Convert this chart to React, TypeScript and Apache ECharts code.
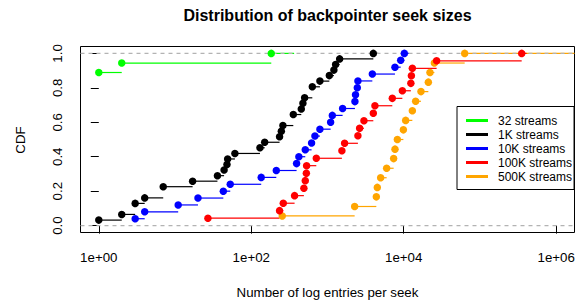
import React, { useEffect, useRef } from "react";
import * as echarts from "echarts";

// ---- data (x = log entries per seek, y = empirical CDF) ----
const seriesNames = ["32 streams", "1K streams", "10K streams", "100K streams", "500K streams"];
const seriesColors = ["#00FF00", "#000000", "#0000FF", "#FF0000", "#FFA500"];

const streams32X = [1, 2, 183];
const streams32Y = [0.889, 0.944, 1.0];

const streams1KX = [1, 2, 3, 4, 7, 17, 36, 44, 48, 49, 61, 130, 150, 235, 248, 260, 356, 453, 476, 501, 632, 795, 1057, 1213, 1277, 1443, 3990];
const streams1KY = [0.032, 0.065, 0.129, 0.161, 0.226, 0.258, 0.29, 0.323, 0.355, 0.387, 0.419, 0.452, 0.484, 0.516, 0.548, 0.581, 0.645, 0.677, 0.71, 0.742, 0.806, 0.839, 0.871, 0.903, 0.935, 0.968, 1.0];

const streams10KX = [3, 4, 11, 20, 43, 53, 135, 213, 393, 421, 511, 618, 684, 795, 1099, 1157, 1578, 2290, 2330, 2460, 2506, 3873, 7672, 9120, 10180];
const streams10KY = [0.04, 0.08, 0.12, 0.16, 0.2, 0.24, 0.28, 0.32, 0.36, 0.4, 0.44, 0.48, 0.52, 0.56, 0.6, 0.64, 0.68, 0.72, 0.76, 0.8, 0.84, 0.88, 0.92, 0.96, 1.0];

const streams100KX = [27, 235, 263, 370, 490, 511, 528, 532, 713, 1545, 1676, 2506, 2637, 3006, 3990, 4190, 7080, 9590, 12400, 12600, 12970, 27000, 352500];
const streams100KY = [0.043, 0.087, 0.13, 0.174, 0.217, 0.261, 0.304, 0.348, 0.391, 0.435, 0.478, 0.522, 0.565, 0.609, 0.652, 0.696, 0.739, 0.783, 0.826, 0.87, 0.913, 0.957, 1.0];

const streams500KX = [255, 2270, 4370, 4500, 4980, 5970, 7370, 7680, 8250, 9890, 10600, 12970, 14330, 16830, 21030, 22080, 25230, 63000];
const streams500KY = [0.056, 0.111, 0.167, 0.222, 0.278, 0.333, 0.389, 0.444, 0.5, 0.556, 0.611, 0.667, 0.722, 0.778, 0.833, 0.889, 0.944, 1.0];

// where the final (CDF = 1) step of each curve ends; null = runs to the plot edge
const tailEnds: (number | null)[] = [365, 4630, 11800, 409000, null];

const xTickExponents = [0, 2, 4, 6];
const yTicks = [0, 0.2, 0.4, 0.6, 0.8, 1.0];
const refLevels = [0, 1];

const X_MIN = -0.24;
const X_MAX = 6.24;
const Y_MIN = -0.04;
const Y_MAX = 1.04;

const allX = [streams32X, streams1KX, streams10KX, streams100KX, streams500KX];
const allY = [streams32Y, streams1KY, streams10KY, streams100KY, streams500KY];

const FONT = "'Liberation Sans', Arial, Helvetica, sans-serif";

function buildOption() {
  const series: any[] = [];
  const drawOrder = [4, 0, 1, 2, 3];

  drawOrder.forEach((i) => {
    const xs = allX[i];
    const ys = allY[i];
    const segs: number[][] = [];
    for (let k = 0; k < xs.length; k++) {
      const x0 = Math.log10(xs[k]);
      let x1: number;
      if (k < xs.length - 1) x1 = Math.log10(xs[k + 1]);
      else x1 = tailEnds[i] === null ? X_MAX : Math.log10(tailEnds[i] as number);
      segs.push([x0, Math.min(x1, X_MAX), ys[k]]);
    }
    const color = seriesColors[i];
    series.push({
      name: seriesNames[i] + " steps",
      type: "custom",
      silent: true,
      z: 2,
      data: segs,
      encode: { x: [0, 1], y: 2 },
      renderItem: (params: any, api: any) => {
        const y = api.value(2);
        const p1 = api.coord([api.value(0), y]);
        const p2 = api.coord([api.value(1), y]);
        return {
          type: "line",
          shape: { x1: p1[0], y1: p1[1], x2: p2[0], y2: p2[1] },
          style: { stroke: color, lineWidth: 1.2 },
        };
      },
    });
  });

  refLevels.forEach((lv) => {
    series.push({
      name: "ref" + lv,
      type: "line",
      silent: true,
      z: 3,
      symbol: "none",
      data: [
        [X_MIN, lv],
        [X_MAX, lv],
      ],
      lineStyle: { color: "#B3B3B3", width: 1.2, type: [4, 4] },
    });
  });

  drawOrder.forEach((i) => {
    series.push({
      name: seriesNames[i],
      type: "scatter",
      z: 4,
      symbol: "circle",
      symbolSize: 7.5,
      itemStyle: { color: seriesColors[i], opacity: 1 },
      data: allX[i].map((x, k) => [Math.log10(x), allY[i][k]]),
    });
  });

  return {
    animation: false,
    backgroundColor: "#ffffff",
    textStyle: { fontFamily: FONT },
    grid: { left: 80.5, top: 46.5, width: 494, height: 186, show: true, borderColor: "#000", borderWidth: 1, backgroundColor: "transparent" },
    xAxis: {
      type: "value",
      min: X_MIN,
      max: X_MAX,
      axisLine: { show: false },
      splitLine: { show: false },
      axisTick: { show: true, length: 8, customValues: xTickExponents, lineStyle: { color: "#000" } },
      axisLabel: {
        customValues: xTickExponents,
        formatter: (v: number) => "1e+" + (v < 10 ? "0" : "") + v,
        margin: 18,
        fontSize: 13.3,
        color: "#000",
        fontFamily: FONT,
      },
    },
    yAxis: {
      type: "value",
      min: Y_MIN,
      max: Y_MAX,
      axisLine: { show: false },
      splitLine: { show: false },
      axisTick: { show: true, length: 8, customValues: yTicks, lineStyle: { color: "#000" } },
      axisLabel: {
        customValues: yTicks,
        formatter: (v: number) => v.toFixed(1),
        rotate: 90,
        margin: 17,
        fontSize: 13.3,
        color: "#000",
        fontFamily: FONT,
      },
    },
    legend: {
      data: seriesNames.map((n) => ({ name: n, icon: "rect" })),
      orient: "vertical",
      left: 457,
      top: 106.5,
      itemWidth: 22,
      itemHeight: 3,
      itemGap: 0,
      borderColor: "#000",
      borderWidth: 1,
      borderRadius: 0,
      padding: [7, 2, 6, 9],
      selectedMode: false,
      itemStyle: { opacity: 1 },
      textStyle: { fontSize: 12, lineHeight: 14, color: "#000", fontFamily: FONT, padding: [0, 0, 0, 5] },
    },
    graphic: [
      {
        type: "text",
        x: 327.5,
        y: 15,
        style: { text: "Distribution of backpointer seek sizes", font: "bold 16px " + FONT, fill: "#000", textAlign: "center", textVerticalAlign: "middle" },
      },
      {
        type: "text",
        x: 20.5,
        y: 140,
        rotation: Math.PI / 2,
        style: { text: "CDF", font: "13.3px " + FONT, fill: "#000", textAlign: "center", textVerticalAlign: "middle" },
      },
      {
        type: "text",
        x: 327.5,
        y: 292,
        style: { text: "Number of log entries per seek", font: "13.3px " + FONT, fill: "#000", textAlign: "center", textVerticalAlign: "middle" },
      },
    ],
    series,
  };
}

export default function App() {
  const ref = useRef<HTMLDivElement>(null);
  useEffect(() => {
    if (!ref.current) return;
    const chart = echarts.init(ref.current, undefined, { renderer: "svg" });
    chart.setOption(buildOption() as any);
    return () => chart.dispose();
  }, []);
  return <div ref={ref} style={{ position: "fixed", left: 0, top: 0, width: 578, height: 302, background: "#fff" }} />;
}
